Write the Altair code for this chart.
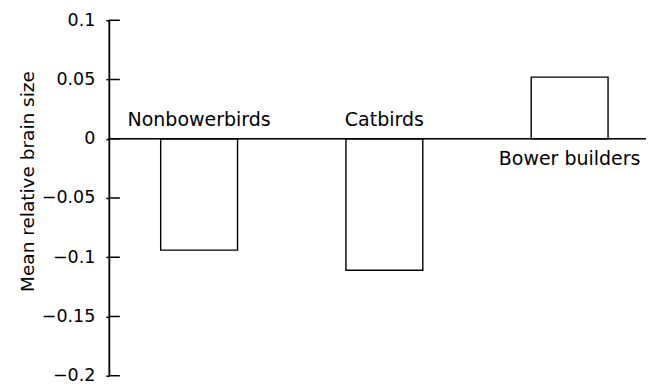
import altair as alt
import pandas as pd

groups = ["Nonbowerbirds", "Catbirds", "Bower builders"]
values = [-0.094, -0.111, 0.052]
tick_values = [0.1, 0.05, 0, -0.05, -0.1, -0.15, -0.2]

FONT = "DejaVu Sans"

df = pd.DataFrame({"group": groups, "value": values})
ticks_df = pd.DataFrame({"t": tick_values})

yscale = alt.Scale(domain=[-0.2, 0.1], nice=False, zero=False)
xscale = alt.Scale(paddingInner=0.585, paddingOuter=0.245, align=0.571)

x_enc = alt.X("group:N", sort=groups, scale=xscale, axis=None)

bars = alt.Chart(df).mark_bar(fill="white", stroke="black", strokeWidth=1.4).encode(
    x=x_enc,
    y=alt.Y(
        "value:Q",
        scale=yscale,
        axis=alt.Axis(
            values=tick_values,
            format="~g",
            title="Mean relative brain size",
            titleFont=FONT,
            titleFontSize=18.5,
            titleFontWeight="normal",
            titleColor="black",
            titleAngle=270,
            titleX=-81,
            titleY=161,
            titleAlign="center",
            titleBaseline="middle",
            labelFont=FONT,
            labelFontSize=17.5,
            labelColor="black",
            labelPadding=11,
            tickSize=3,
            tickColor="black",
            tickWidth=1.5,
            domainColor="black",
            domainWidth=1.8,
            grid=False,
        ),
    ),
    y2=alt.datum(0),
)

inner_ticks = alt.Chart(ticks_df).mark_rule(color="black", strokeWidth=1.5).encode(
    y=alt.Y("t:Q", scale=yscale),
    x=alt.value(0),
    x2=alt.value(11),
)

zero_line = alt.Chart(df).mark_rule(color="black", strokeWidth=1.1).encode(
    y=alt.datum(0),
    x=alt.value(0),
    x2=alt.value(538),
)

labels_neg = alt.Chart(df).transform_filter("datum.value < 0").mark_text(
    font=FONT, fontSize=19, color="black", baseline="alphabetic", align="center", dy=-13
).encode(x=x_enc, y=alt.datum(0), text="group:N")

labels_pos = alt.Chart(df).transform_filter("datum.value >= 0").mark_text(
    font=FONT, fontSize=19, color="black", baseline="alphabetic", align="center", dy=26
).encode(x=x_enc, y=alt.datum(0), text="group:N")

chart = (
    alt.layer(bars, zero_line, inner_ticks, labels_neg, labels_pos)
    .properties(
        width=539,
        height=356,
        autosize=alt.AutoSizeParams(type="none"),
        padding={"left": 101, "top": 12, "right": 0, "bottom": 10},
        background="white",
    )
    .configure_view(stroke=None)
)

chart.save("out.html", embed_options={"renderer": "svg", "actions": False})
